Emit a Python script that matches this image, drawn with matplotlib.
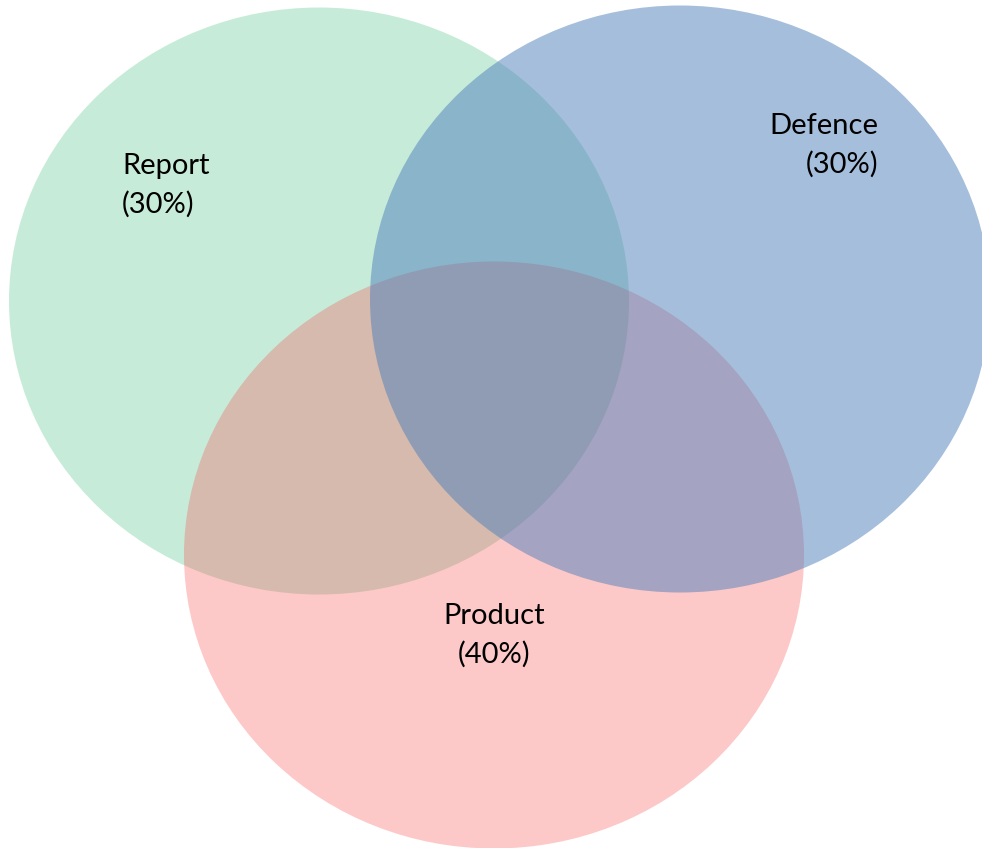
import matplotlib
matplotlib.use("Agg")
import matplotlib.pyplot as plt
from matplotlib.patches import Ellipse

# sets and their shares
sets = ["Report", "Product", "Defence"]
shares = [30, 40, 30]

# layout in pixel coords (drawing order: green, pink, blue)
centers = [(319, 301), (494, 555), (680, 299)]
width, height = 620, 587
colors = ["#91d9b5", "#fb3b3b", "#4d7fbb"]
alphas = [0.5, 0.28, 0.5]
label_pos = [(122, 185, "left"), (494, 635, "center"), (878, 145, "right")]

fig = plt.figure(figsize=(9.82, 8.48), dpi=100)
ax = fig.add_axes([0, 0, 1, 1])
ax.set_xlim(0, 982)
ax.set_ylim(848, 0)
ax.axis("off")

for c, col, a in zip(centers, colors, alphas):
    ax.add_patch(Ellipse(c, width, height, facecolor=col, alpha=a, edgecolor="none"))

for name, share, (x, y, ha) in zip(sets, shares, label_pos):
    ax.text(x, y, "%s\n(%d%%)" % (name, share), ha=ha, va="center",
            multialignment=ha, fontsize=21, family="Lato", color="black",
            linespacing=1.55)

fig.savefig("out.png", dpi=100)
